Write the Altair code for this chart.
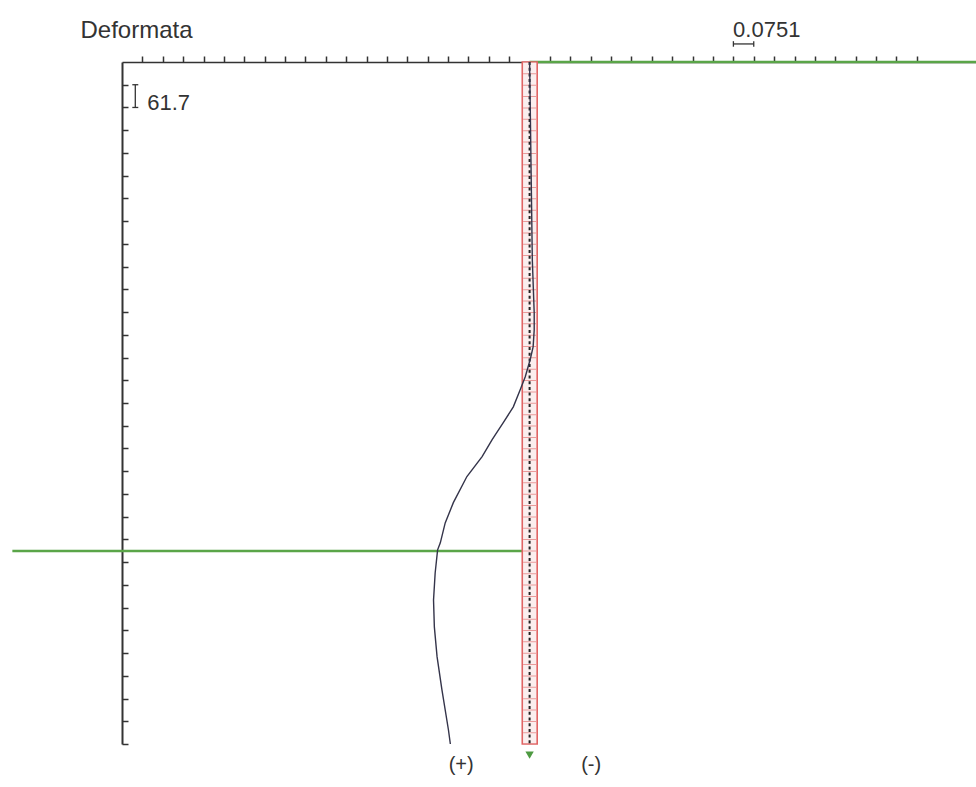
import altair as alt
import pandas as pd

# ---------------- data ----------------
# deformed shape of the wall: horizontal displacement (positive = towards the excavation, left) vs depth
curve_depth = [0.0, 1.02, 3.20, 5.37, 6.81, 7.27, 7.73, 8.08, 8.54, 8.90, 9.36, 9.79, 10.25,
               10.71, 11.25, 11.96, 12.51, 13.05, 13.24, 13.87, 14.60, 15.33, 16.14, 17.04, 18.13, 18.51]
curve_disp = [0.000, -0.002, -0.006, -0.010, -0.017, -0.017, -0.013, -0.002, 0.016, 0.035, 0.060,
              0.097, 0.138, 0.175, 0.231, 0.281, 0.311, 0.329, 0.339, 0.348, 0.354, 0.351, 0.341,
              0.323, 0.299, 0.292]

wall_length = 18.51          # depth of wall toe
wall_half = [0.027, -0.028]  # wall outline (drawn width)
excavation_depth = 13.27
ground_right = [0.0, -1.65]  # ground line behind the wall, at depth 0
ground_left = [1.906, 0.0]   # excavation level line

disp_step = 0.0751           # horizontal scale unit (one tick)
depth_step = 0.617           # vertical tick unit (61.7)
xtick_vals = [round(k * disp_step, 4) for k in range(-19, 20) if k != 0]
ytick_vals = [round(k * depth_step, 3) for k in range(1, 31)]

x_domain = [-1.645, 1.502]
y_domain = [0.0, 18.51]

W, H = 854, 682

AX = "#333333"
GREEN = "#5aa548"
RED = "#e06464"
FONT = "Liberation Sans"

xs = alt.Scale(domain=x_domain, reverse=True, nice=False, zero=False)
ys = alt.Scale(domain=y_domain, reverse=True, nice=False, zero=False)
x_axis = alt.Axis(orient="top", values=xtick_vals, labels=False, title=None, grid=False,
                  tickSize=6, tickWidth=1.5, tickColor=AX, domainColor=AX, domainWidth=1.5)
y_axis = alt.Axis(orient="right", offset=-W, values=ytick_vals, labels=False, title=None, grid=False,
                  tickSize=6, tickWidth=1.5, tickColor=AX, domainColor=AX, domainWidth=2)


def X(field):
    return alt.X(field, scale=xs, axis=x_axis, title=None)


def Y(field):
    return alt.Y(field, scale=ys, axis=y_axis, title=None)


# ---------------- deformed shape ----------------
curve_df = pd.DataFrame({"d": curve_disp, "z": curve_depth, "i": list(range(len(curve_disp)))})
curve = alt.Chart(curve_df).mark_line(color="#34344a", strokeWidth=1.4).encode(
    x=X("d:Q"), y=Y("z:Q"), order="i:Q")

# ---------------- wall ----------------
wall_df = pd.DataFrame({"x1": [wall_half[0]], "x2": [wall_half[1]], "z1": [0.0], "z2": [wall_length]})
wall = alt.Chart(wall_df).mark_rect(fill="#fbeeee", stroke=RED, strokeWidth=1.6).encode(
    x=X("x1:Q"), x2="x2:Q", y=Y("z1:Q"), y2="z2:Q")

axis_df = pd.DataFrame({"d": [0.0, 0.0], "z": [0.0, wall_length]})
stripes = alt.Chart(axis_df).mark_line(color="#e99a9a", strokeWidth=13, strokeDash=[1, 10.36]).encode(
    x=X("d:Q"), y=Y("z:Q"))
dotted = alt.Chart(axis_df).mark_line(color="#222222", strokeWidth=2, strokeDash=[3, 2.7]).encode(
    x=X("d:Q"), y=Y("z:Q"))

# ---------------- ground lines ----------------
ground_df = pd.DataFrame({
    "d": ground_right + ground_left,
    "z": [0.0, 0.0, excavation_depth, excavation_depth],
    "g": ["a", "a", "b", "b"],
})
ground = alt.Chart(ground_df).mark_line(color=GREEN, strokeWidth=2.5).encode(
    x=X("d:Q"), y=Y("z:Q"), detail="g:N")

# ---------------- scale bars ----------------
hbar_x = [-0.751, -0.826]
hbar_z = -0.49
vbar_x = 1.453
vbar_z = [0.617, 1.234]

bars_df = pd.DataFrame({
    "x1": [hbar_x[0], hbar_x[0], hbar_x[1], vbar_x, 1.464, 1.464],
    "x2": [hbar_x[1], hbar_x[0], hbar_x[1], vbar_x, 1.442, 1.442],
    "z1": [hbar_z, hbar_z - 0.075, hbar_z - 0.075, vbar_z[0], vbar_z[0], vbar_z[1]],
    "z2": [hbar_z, hbar_z + 0.075, hbar_z + 0.075, vbar_z[1], vbar_z[0], vbar_z[1]],
})
bars = alt.Chart(bars_df).mark_rule(color=AX, strokeWidth=1.3).encode(
    x=X("x1:Q"), x2="x2:Q", y=Y("z1:Q"), y2="z2:Q")

# ---------------- texts ----------------
label_text = ["Deformata", "0.0751", "61.7"]
label_x = [1.655, -0.750, 1.409]
label_z = [-0.66, -0.687, 1.296]
label_size = [24, 22, 22]
labels_df = pd.DataFrame({"t": label_text, "d": label_x, "z": label_z, "s": label_size})
labels = alt.Chart(labels_df).mark_text(align="left", baseline="alphabetic", font=FONT,
                                       color=AX).encode(
    x=X("d:Q"), y=Y("z:Q"), text="t:N", size=alt.Size("s:Q", scale=None, legend=None))

sign_text = ["(+)", "(-)"]
sign_x = [0.252, -0.227]
sign_z = [19.08, 19.08]
signs_df = pd.DataFrame({"t": sign_text, "d": sign_x, "z": sign_z})
signs = alt.Chart(signs_df).mark_text(align="center", baseline="middle", font=FONT, fontSize=20,
                                     color=AX).encode(
    x=X("d:Q"), y=Y("z:Q"), text="t:N")

arrow_df = pd.DataFrame({"d": [0.0], "z": [18.81]})
arrow = alt.Chart(arrow_df).mark_point(shape="triangle-down", filled=True, color="#4e9a42",
                                       size=70, opacity=1).encode(
    x=X("d:Q"), y=Y("z:Q"))

chart = alt.layer(ground, wall, stripes, dotted, curve, bars, labels, signs, arrow).properties(
    width=W, height=H,
    autosize=alt.AutoSizeParams(type="none"),
    padding={"left": 122, "top": 62, "right": 0, "bottom": 43},
    background="white",
).configure_view(stroke=None)

chart.save("out.html", embed_options={"renderer": "svg", "actions": False})
